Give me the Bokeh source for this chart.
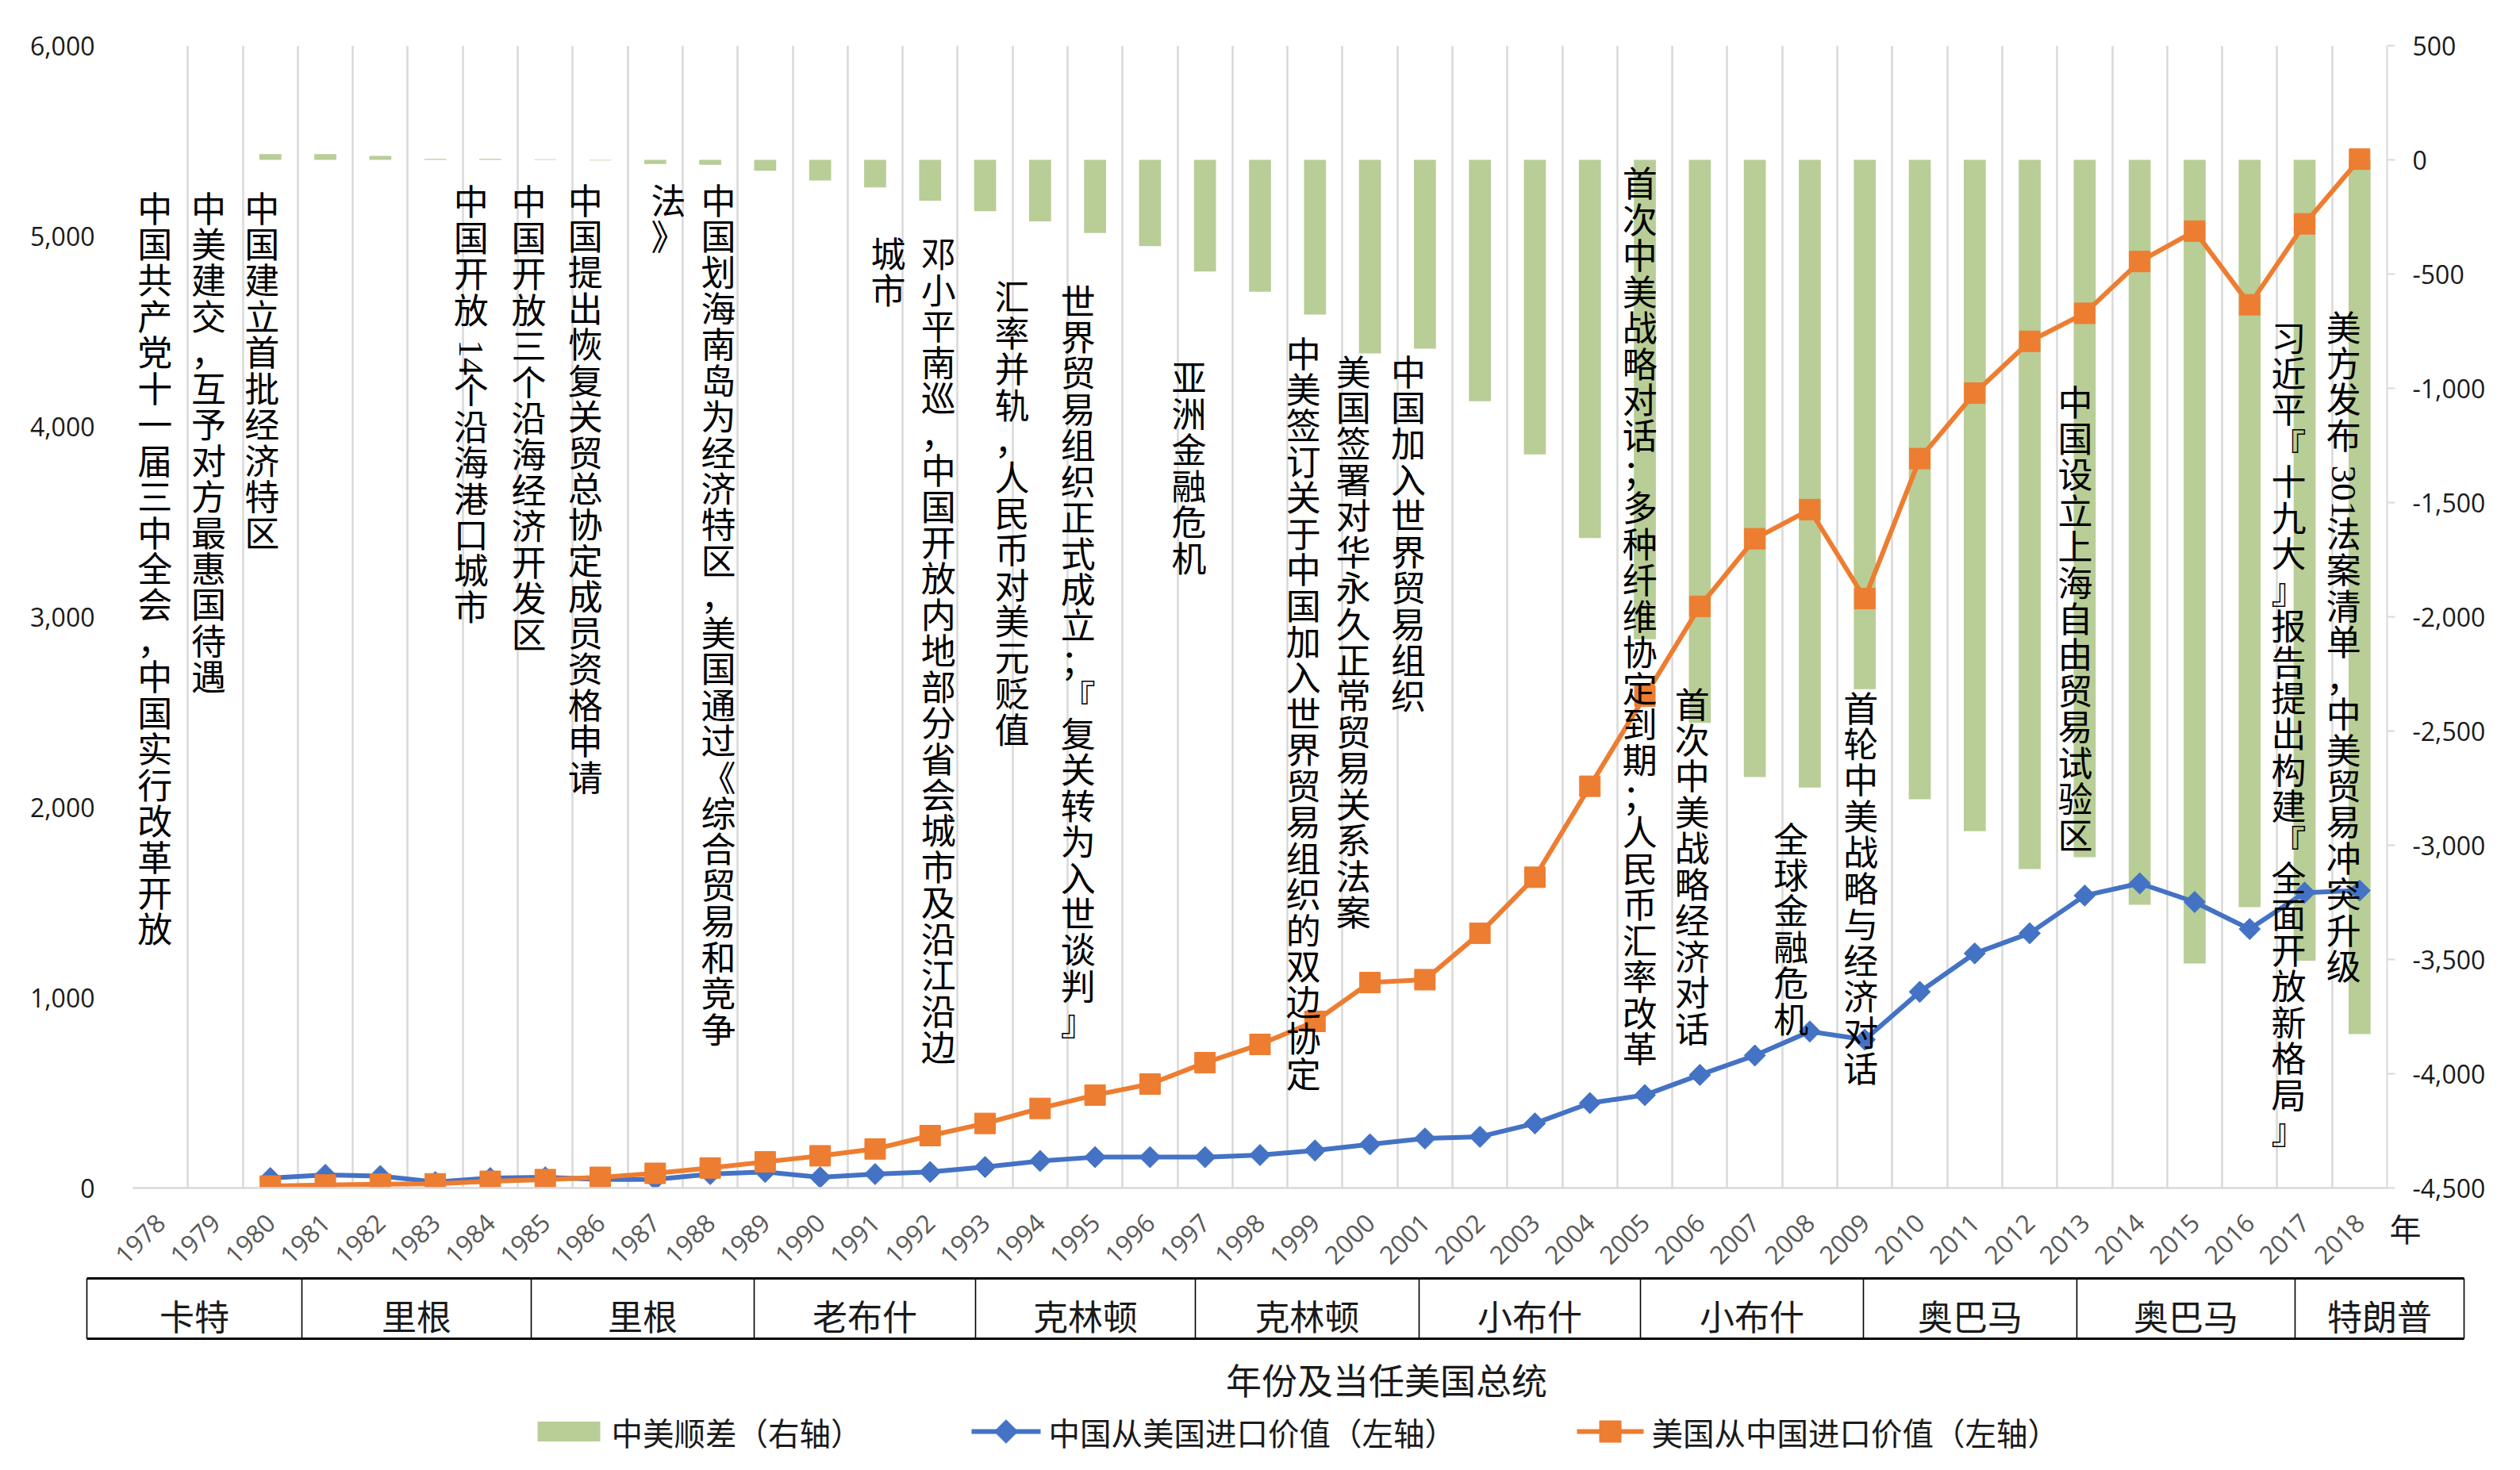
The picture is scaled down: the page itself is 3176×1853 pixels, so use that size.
import math
import re
from bokeh.plotting import figure
from bokeh.models import (ColumnDataSource, Range1d, LinearAxis, FixedTicker,
                          NumeralTickFormatter)
from bokeh.core.properties import value
from bokeh.embed import file_html
from bokeh.resources import INLINE

NaN = float("nan")

# ---------------- data ----------------
years = list(range(1978, 2019))

# 美国从中国进口价值（左轴）
us_imports_from_cn = [NaN, NaN, 10, 16, 20, 22, 35, 44, 56, 77, 105, 137, 169, 205,
                      275, 339, 418, 488, 546, 658, 754, 875, 1079, 1094, 1338,
                      1632, 2110, 2583, 3055, 3410, 3563, 3096, 3831, 4175, 4447,
                      4594, 4866, 5026, 4639, 5064, 5404]

# 中国从美国进口价值（左轴）
cn_imports_from_us = [NaN, NaN, 52, 69, 63, 31, 52, 56, 45, 45, 73, 84, 56, 73,
                      84, 110, 142, 162, 162, 162, 173, 197, 229, 260, 269,
                      339, 446, 488, 594, 696, 822, 779, 1030, 1232, 1338,
                      1536, 1600, 1502, 1360, 1551, 1562]

# 中美顺差（右轴）
balance = [NaN, NaN, 25, 25, 17, 4, 4, 3, -3, -18, -22, -48, -90, -121,
           -179, -225, -269, -320, -378, -489, -577, -677, -847, -826, -1056,
           -1289, -1655, -2098, -2464, -2701, -2747, -2317, -2799, -2938, -3104,
           -3052, -3260, -3517, -3271, -3505, -3826]

left_ticks = [0, 1000, 2000, 3000, 4000, 5000, 6000]
right_ticks = [-4500, -4000, -3500, -3000, -2500, -2000, -1500, -1000, -500, 0, 500]

presidents = ["卡特", "里根", "里根", "老布什", "克林顿", "克林顿",
              "小布什", "小布什", "奥巴马", "奥巴马", "特朗普"]

notes = [
    "中国共产党十一届三中全会，中国实行改革开放",
    "中美建交，互予对方最惠国待遇",
    "中国建立首批经济特区",
    "中国开放14个沿海港口城市",
    "中国开放三个沿海经济开发区",
    "中国提出恢复关贸总协定成员资格申请",
    "中国划海南岛为经济特区，美国通过《综合贸易和竞争",
    "法》",
    "邓小平南巡，中国开放内地部分省会城市及沿江沿边",
    "城市",
    "汇率并轨，人民币对美元贬值",
    "世界贸易组织正式成立；『复关转为入世谈判』",
    "亚洲金融危机",
    "中美签订关于中国加入世界贸易组织的双边协定",
    "美国签署对华永久正常贸易关系法案",
    "中国加入世界贸易组织",
    "首次中美战略对话；多种纤维协定到期；人民币汇率改革",
    "首次中美战略经济对话",
    "全球金融危机",
    "首轮中美战略与经济对话",
    "中国设立上海自由贸易试验区",
    "习近平『十九大』报告提出构建『全面开放新格局』",
    "美方发布301法案清单，中美贸易冲突升级",
]

legend_labels = ["中美顺差（右轴）", "中国从美国进口价值（左轴）", "美国从中国进口价值（左轴）"]

# ---------------- layout constants ----------------
note_x = [-0.10, 0.88, 1.85, 5.65, 6.70, 7.73, 10.15, 9.24, 14.15, 13.24,
          15.49, 16.69, 18.71, 20.79, 21.70, 22.70, 26.91, 27.86, 29.66,
          30.93, 34.83, 38.71, 39.71]
note_top = [5287, 5287, 5287, 5321, 5321, 5329, 5329, 5329, 5046, 5046,
            4821, 4800, 4396, 4525, 4429, 4429, 5417, 2683, 1975, 2662,
            4267, 4608, 4662]

GREEN = "#B9CD97"
BLUE = "#4472C4"
ORANGE = "#ED7D31"
GRID = "#D9D9D9"
CJK = "Noto Sans CJK SC"
NUM = "Open Sans"

W = 3160
FL, FR, FT = 167, 3008, 57          # frame left / right / top (page px)
FH = 1440                           # frame height
H1 = FT + FH + 20
GAP = 8                             # space the page leaves between the two blocks
H2 = 320
Q_TOP = H1 + GAP
N = len(years)
CW = (FR - FL) / N                  # category width in px
PX2U = 6000 / FH                    # left-axis units per pixel

# vertical-text metrics (px)
PITCH = 45.2       # advance of one CJK character in a column
CELL0 = 17         # from text anchor to the top of the first character cell
DIGIT_W = 22.5     # advance of one (rotated) digit
GAP_PRE, GAP_POST = 10, 2


def qy(page_y):
    """page pixel row -> y coordinate inside the bottom strip"""
    return Q_TOP + H2 - page_y


idx = list(range(N))

# ================= main chart =================
p = figure(width=W, height=H1, output_backend="svg", toolbar_location=None,
           x_range=Range1d(-0.5, N - 0.5), y_range=Range1d(0, 6000),
           min_border_left=FL, min_border_right=W - FR, min_border_top=FT,
           min_border_bottom=H1 - FT - FH)
p.outline_line_color = None
p.extra_y_ranges = {"right": Range1d(-4500, 500)}

xa = p.xaxis[0]
xa.ticker = FixedTicker(ticks=[])
xa.axis_line_color = GRID
xa.axis_line_width = 2.5
xa.major_tick_line_color = None
xa.minor_tick_line_color = None
xa.major_label_text_font_size = "1px"
xa.major_label_standoff = 0

ya = p.yaxis[0]
ya.ticker = FixedTicker(ticks=left_ticks)
ya.formatter = NumeralTickFormatter(format="0,0")
ya.axis_line_color = None
ya.major_tick_line_color = None
ya.minor_tick_line_color = None
ya.major_label_text_font = NUM
ya.major_label_text_font_size = "32px"
ya.major_label_text_color = "#1a1a1a"
ya.major_label_standoff = 42

ra = LinearAxis(y_range_name="right", ticker=FixedTicker(ticks=right_ticks),
                formatter=NumeralTickFormatter(format="0,0"))
ra.axis_line_color = GRID
ra.axis_line_width = 2
ra.major_tick_line_color = GRID
ra.major_tick_line_width = 2
ra.major_tick_out = 10
ra.major_tick_in = 0
ra.minor_tick_line_color = None
ra.major_label_text_font = NUM
ra.major_label_text_font_size = "32px"
ra.major_label_text_color = "#1a1a1a"
ra.major_label_standoff = 22
p.add_layout(ra, "right")

p.ygrid.visible = False
p.xgrid.ticker = FixedTicker(ticks=[i - 0.5 for i in range(N + 1)])
p.xgrid.grid_line_color = GRID
p.xgrid.grid_line_width = 2.5

src = ColumnDataSource(dict(x=idx, bal=balance, us=us_imports_from_cn,
                            cn=cn_imports_from_us))

p.vbar(x="x", top="bal", bottom=0, width=0.4, source=src, fill_color=GREEN,
       line_color=None, y_range_name="right")
p.line(x="x", y="cn", source=src, line_color=BLUE, line_width=6)
p.scatter(x="x", y="cn", source=src, marker="square", angle=math.pi / 4,
          size=19, fill_color=BLUE, line_color=BLUE)
p.line(x="x", y="us", source=src, line_color=ORANGE, line_width=6)
p.scatter(x="x", y="us", source=src, marker="square", size=26,
          fill_color=ORANGE, line_color=ORANGE)

# vertical notes: CJK characters stacked upright, digit runs rotated (as in Excel)
cx, cy, ct, dx, dy, dt = [], [], [], [], [], []
for t, x0, top in zip(notes, note_x, note_top):
    off = 0.0
    for seg in re.findall(r"\d+|\D+", t):
        if seg.isdigit():
            dx.append(x0)
            dy.append(top - (off + CELL0 + GAP_PRE) * PX2U)
            dt.append(seg)
            off += GAP_PRE + len(seg) * DIGIT_W + GAP_POST
        else:
            cx.append(x0)
            cy.append(top - off * PX2U)
            ct.append("\n".join(list(seg)))
            off += len(seg) * PITCH

p.text(x=cx, y=cy, text=ct, text_font=value(CJK),
       text_font_size="44px", text_align="center", text_baseline="top",
       text_line_height=0.71, text_color="#000000")
p.text(x=dx, y=dy, text=dt, angle=-math.pi / 2, text_font=value("Liberation Serif"),
       text_font_size="45px", text_align="left", text_baseline="middle",
       text_color="#000000")

# ================= bottom strip: year labels, president table, title, legend ===
q = figure(width=W, height=H2, output_backend="svg", toolbar_location=None,
           x_range=Range1d(0, W), y_range=Range1d(0, H2),
           x_axis_type=None, y_axis_type=None,
           min_border_left=0, min_border_right=0, min_border_top=0,
           min_border_bottom=0)
q.outline_line_color = None
q.grid.visible = False
# category scale aligned with the chart's frame above
q.extra_x_ranges = {"cat": Range1d(-0.5 - FL / CW, -0.5 + (W - FL) / CW)}

# year tick labels (rotated) and the unit "年"
q.text(x=idx, y=[qy(1543)] * N, text=[str(y) for y in years], x_range_name="cat",
       angle=math.pi / 4, text_font=value(NUM), text_font_size="32px",
       text_align="right", text_baseline="middle", text_color="#595959")
q.text(x=[N - 0.5 + 23 / CW], y=[qy(1555)], text=["年"], x_range_name="cat",
       text_font=value(CJK), text_font_size="40px", text_align="center",
       text_baseline="middle", text_color="#1a1a1a")

edges = [109, 380, 669, 950, 1229, 1506, 1788, 2067, 2348, 2617, 2892, 3105]
t_top, t_bot, t_mid = qy(1619), qy(1695), qy(1665)
q.segment(x0=[edges[0], edges[0]], y0=[t_top, t_bot], x1=[edges[-1], edges[-1]],
          y1=[t_top, t_bot], line_color="#000000", line_width=3)
q.segment(x0=edges, y0=[t_bot] * len(edges), x1=edges, y1=[t_top] * len(edges),
          line_color="#000000", line_width=1.6)
centers = [(a + b) / 2 for a, b in zip(edges[:-1], edges[1:])]
q.text(x=centers, y=[t_mid] * len(centers), text=presidents,
       text_font=value(CJK), text_font_size="44px", text_align="center",
       text_baseline="middle", text_color="#1a1a1a")

q.text(x=[1747], y=[qy(1746)], text=["年份及当任美国总统"], text_font=value(CJK),
       text_font_size="45px", text_align="center", text_baseline="middle",
       text_color="#1a1a1a")

ly = qy(1812)
q.quad(left=[677], right=[756], bottom=[ly - 12.5], top=[ly + 12.5],
       fill_color=GREEN, line_color=None)
q.segment(x0=[1224], y0=[ly], x1=[1311], y1=[ly], line_color=BLUE, line_width=6)
q.scatter(x=[1267.5], y=[ly], marker="square", angle=math.pi / 4, size=21,
          fill_color=BLUE, line_color=BLUE)
q.segment(x0=[1987], y0=[ly], x1=[2071], y1=[ly], line_color=ORANGE, line_width=6)
q.scatter(x=[2029], y=[ly], marker="square", size=27,
          fill_color=ORANGE, line_color=ORANGE)
q.text(x=[770, 1321, 2081], y=[ly] * 3, text=legend_labels,
       text_font=value(CJK), text_font_size="39.5px", text_align="left",
       text_baseline="middle", text_color="#1a1a1a")

open("out.html", "w").write(file_html([p, q], INLINE))
